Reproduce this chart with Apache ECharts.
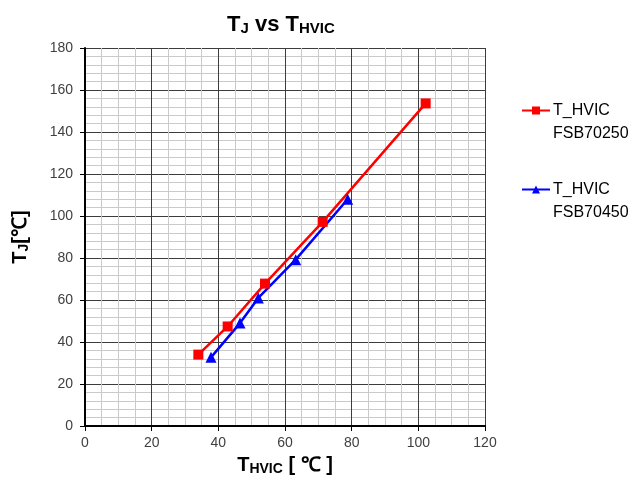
<!DOCTYPE html>
<html>
<head>
<meta charset="utf-8">
<script src="https://cdn.jsdelivr.net/npm/echarts@6/dist/echarts.min.js"></script>
<style>
  html, body { margin: 0; padding: 0; background: #fff; }
  #main { width: 639px; height: 484px; }
</style>
</head>
<body>
<div id="main"></div>
<script>
  // data
  var seriesNames = ['T_HVIC\nFSB70250', 'T_HVIC\nFSB70450'];
  var xRed = [34, 42.8, 54, 71.3, 102.2];
  var yRed = [34, 47.4, 67.8, 97.2, 153.6];
  var xBlue = [37.8, 46.5, 52, 63.2, 78.8];
  var yBlue = [32.7, 49, 61, 79.2, 108];

  function pairs (xs, ys) {
    var out = [];
    for (var i = 0; i < xs.length; i++) {
      out.push([xs[i], ys[i]]);
    }
    return out;
  }

  var font = 'Liberation Sans';
  var chart = echarts.init(document.getElementById('main'));
  chart.setOption({
    animation: false,
    textStyle: {fontFamily: font},
    title: {
      text: '{b|T}{s|J}{b| vs T}{s|HVIC}',
      left: 222,
      top: 8,
      textStyle: {
        rich: {
          b: {fontSize: 22, fontWeight: 'bold', color: '#000', fontFamily: font},
          s: {fontSize: 15, fontWeight: 'bold', color: '#000', fontFamily: font, verticalAlign: 'bottom', padding: [8, 0, 0, 0]}
        }
      }
    },
    legend: {
      orient: 'vertical',
      left: 516,
      top: 71,
      itemGap: 10,
      itemWidth: 28,
      itemHeight: 10,
      data: seriesNames,
      // blank first line so the icon sits level with the first text line
      formatter: function (name) {
        return '\n' + name;
      },
      textStyle: {
        fontSize: 16,
        color: '#000',
        lineHeight: 23,
        padding: [0, 0, 0, -2]
      }
    },
    grid: {
      left: 85,
      right: 154,
      top: 48,
      bottom: 58
    },
    xAxis: {
      type: 'value',
      min: 0,
      max: 120,
      interval: 20,
      name: '{b|T}{s|HVIC}{b| [ ℃ ]}',
      nameLocation: 'middle',
      nameGap: 28,
      nameTextStyle: {
        rich: {
          b: {fontSize: 20, fontWeight: 'bold', color: '#000', fontFamily: font},
          s: {fontSize: 14, fontWeight: 'bold', color: '#000', fontFamily: font, verticalAlign: 'bottom', padding: [8, 0, 0, 0]}
        }
      },
      axisLine: {show: true, onZero: false, lineStyle: {color: '#000', width: 2}},
      axisTick: {show: true, length: 5, lineStyle: {color: '#000'}},
      axisLabel: {fontSize: 14, color: '#404040', margin: 10},
      splitLine: {show: true, lineStyle: {color: '#3c3c3c', width: 1}},
      minorTick: {show: false, splitNumber: 4},
      minorSplitLine: {show: true, lineStyle: {color: '#cacaca', width: 1}}
    },
    yAxis: {
      type: 'value',
      min: 0,
      max: 180,
      interval: 20,
      name: '{b|T}{s|J}{b|[℃]}',
      nameLocation: 'middle',
      nameGap: 54,
      nameTextStyle: {
        rich: {
          b: {fontSize: 20, fontWeight: 'bold', color: '#000', fontFamily: font},
          s: {fontSize: 14, fontWeight: 'bold', color: '#000', fontFamily: font, verticalAlign: 'bottom', padding: [8, 0, 0, 0]}
        }
      },
      axisLine: {show: true, onZero: false, lineStyle: {color: '#000', width: 2}},
      axisTick: {show: true, length: 5, lineStyle: {color: '#000'}},
      axisLabel: {fontSize: 14, color: '#404040', margin: 12},
      splitLine: {show: true, lineStyle: {color: '#3c3c3c', width: 1}},
      minorTick: {show: false, splitNumber: 5},
      minorSplitLine: {show: true, lineStyle: {color: '#cacaca', width: 1}}
    },
    series: [
      {
        name: seriesNames[0],
        type: 'line',
        symbol: 'rect',
        symbolSize: 10,
        color: '#ff0000',
        lineStyle: {width: 2.5, color: '#ff0000'},
        itemStyle: {color: '#ff0000'},
        data: pairs(xRed, yRed)
      },
      {
        name: seriesNames[1],
        type: 'line',
        symbol: 'triangle',
        symbolSize: 11,
        color: '#0000ff',
        lineStyle: {width: 2.5, color: '#0000ff'},
        itemStyle: {color: '#0000ff'},
        data: pairs(xBlue, yBlue)
      }
    ]
  });
</script>
</body>
</html>
